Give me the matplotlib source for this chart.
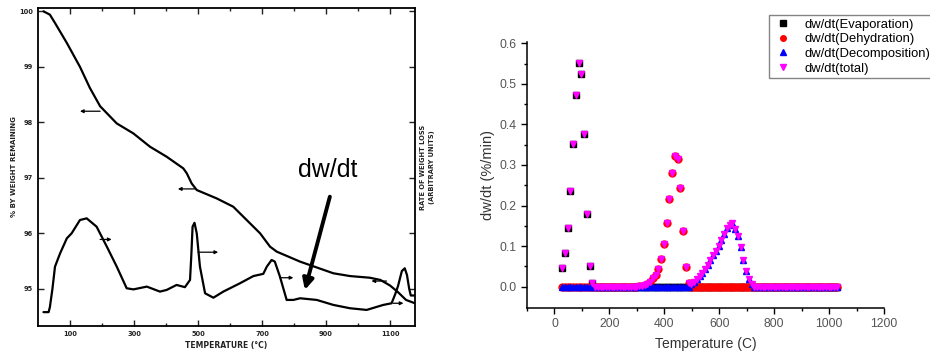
import numpy as np
import matplotlib
matplotlib.use("agg")
import matplotlib.pyplot as plt

# --- left panel: scanned TG / DTG curves (temperature in C) ---
weight_temp = [17, 37, 53, 90, 131, 162, 194, 246, 298, 350, 402, 454, 465, 480, 496,
               558, 610, 652, 694, 725, 746, 819, 923, 975, 1037, 1070, 1100, 1125, 1150, 1178]
weight_pct = [100.0, 99.94, 99.79, 99.43, 99.0, 98.62, 98.29, 97.98, 97.80, 97.56, 97.38,
              97.17, 97.08, 96.90, 96.78, 96.63, 96.48, 96.24, 96.0, 95.76, 95.67, 95.49,
              95.28, 95.23, 95.2, 95.16, 95.06, 94.94, 94.8, 94.74]

rate_temp = [17, 33, 37, 45, 53, 69, 90, 105, 131, 152, 183, 215, 246, 277, 298, 340, 381,
             402, 433, 459, 475, 479, 483, 489, 496, 506, 522, 548, 579, 631, 673, 704, 715,
             730, 740, 756, 777, 798, 819, 871, 923, 975, 1027, 1079, 1105, 1116, 1125, 1137,
             1146, 1153, 1160, 1165, 1178]
rate_val = [94.58, 94.58, 94.67, 95.0, 95.40, 95.64, 95.91, 96.0, 96.24, 96.27, 96.12, 95.76,
            95.40, 95.01, 94.99, 95.04, 94.95, 94.98, 95.07, 95.03, 95.16, 95.6, 96.12, 96.19,
            96.0, 95.40, 94.92, 94.84, 94.95, 95.10, 95.23, 95.27, 95.40, 95.52, 95.49, 95.22,
            94.80, 94.80, 94.83, 94.80, 94.71, 94.65, 94.62, 94.71, 94.74, 94.9, 95.05, 95.32,
            95.37, 95.25, 95.0, 94.88, 94.88]

# --- right panel: model rates, 10 C grid ---
temp = np.arange(28, 1029, 10)

evap_temp = [28, 38, 48, 58, 68, 78, 88, 98, 108, 118, 128, 138]
evap_rate = [0.045, 0.082, 0.145, 0.236, 0.351, 0.473, 0.551, 0.524, 0.376, 0.179, 0.051, 0.008]

dehyd_temp = [308, 318, 328, 338, 348, 358, 368, 378, 388, 398, 408, 418, 428, 438, 448, 458,
              468, 478, 488]
dehyd_rate = [0.001, 0.002, 0.004, 0.007, 0.012, 0.020, 0.029, 0.044, 0.069, 0.105, 0.156,
              0.217, 0.280, 0.322, 0.315, 0.244, 0.137, 0.048, 0.009]

decomp_temp = [498, 508, 518, 528, 538, 548, 558, 568, 578, 588, 598, 608, 618, 628, 638, 648,
               658, 668, 678, 688, 698, 708, 718]
decomp_rate = [0.007, 0.012, 0.018, 0.025, 0.033, 0.043, 0.054, 0.066, 0.078, 0.088, 0.100,
               0.115, 0.130, 0.145, 0.153, 0.156, 0.143, 0.125, 0.097, 0.066, 0.039, 0.018, 0.006]


def on_grid(xs, ys):
    out = np.zeros(len(temp))
    for x, y in zip(xs, ys):
        out[np.argmin(np.abs(temp - x))] = y
    return out


evap = on_grid(evap_temp, evap_rate)
dehyd = on_grid(dehyd_temp, dehyd_rate)
decomp = on_grid(decomp_temp, decomp_rate)
total = evap + dehyd + decomp

fig = plt.figure(figsize=(9.3, 3.6), dpi=100)

# ---------------- left panel ----------------
ax1 = fig.add_axes([0.0409, 0.0944, 0.4053, 0.8834])
ax1.plot(weight_temp, weight_pct, color="black", lw=1.6, solid_capstyle="round")
ax1.plot(rate_temp, rate_val, color="black", lw=1.6, solid_capstyle="round")
ax1.set_xlim(0, 1178)
ax1.set_ylim(94.33, 100.06)
ax1.set_xticks([100, 300, 500, 700, 900, 1100])
ax1.set_xticks([200, 400, 600, 800, 1000], minor=True)
ax1.set_yticks([95, 96, 97, 98, 99, 100])
ax1.tick_params(which="both", direction="in", top=True, right=True, labelsize=4.8,
                width=1, colors="#222222")
ax1.tick_params(which="major", length=4)
ax1.tick_params(which="minor", length=2)
for lab in ax1.get_xticklabels() + ax1.get_yticklabels():
    lab.set_fontweight("bold")
for sp in ax1.spines.values():
    sp.set_linewidth(1.3)
ax1.set_xlabel("TEMPERATURE (°C)", fontsize=5.5, fontweight="bold", color="#222222", labelpad=3)
ax1.set_ylabel("% BY WEIGHT REMAINING", fontsize=5.0, fontweight="bold", color="#222222", labelpad=2)
fig.text(0.4595, 0.535, "RATE OF WEIGHT LOSS\n(ARBITRARY UNITS)", rotation=90, fontsize=4.8,
         fontweight="bold", color="#222222", ha="center", va="center", linespacing=1.5)

small = dict(arrowstyle="-|>", lw=0.9, color="black", mutation_scale=5, shrinkA=0, shrinkB=0)
for x0, x1, y in [(194, 131, 98.2), (489, 437, 96.8), (1089, 1042, 95.14),
                  (194, 230, 95.89), (500, 563, 95.66), (756, 798, 95.2), (1110, 1142, 94.74)]:
    ax1.annotate("", xy=(x1, y), xytext=(x0, y), arrowprops=small)

ax1.text(904, 97.14, "dw/dt", fontsize=18, family="Liberation Sans", ha="center", va="center")
ax1.annotate("", xy=(834, 94.98), xytext=(912, 96.66),
             arrowprops=dict(arrowstyle="-|>", lw=2.8, color="black", mutation_scale=16,
                             shrinkA=0, shrinkB=0))

# ---------------- right panel ----------------
ax2 = fig.add_axes([0.5667, 0.1453, 0.3839, 0.7389])
ms = 5
ax2.plot(temp, evap, "s", color="black", ms=ms, mec="black", label="dw/dt(Evaporation)")
ax2.plot(temp, dehyd, "o", color="red", ms=ms, mec="red", label="dw/dt(Dehydration)")
ax2.plot(temp, decomp, "^", color="blue", ms=ms, mec="blue", label="dw/dt(Decomposition)")
ax2.plot(temp, total, "v", color="magenta", ms=ms, mec="magenta", label="dw/dt(total)")

ax2.set_xlim(-100, 1200)
ax2.set_ylim(-0.052, 0.604)
ax2.set_xticks([0, 200, 400, 600, 800, 1000, 1200])
ax2.set_xticks([-100, 100, 300, 500, 700, 900, 1100], minor=True)
ax2.set_yticks(np.round(np.arange(0, 0.61, 0.1), 1))
ax2.set_yticks(np.round(np.arange(0.05, 0.6, 0.1), 2), minor=True)
ax2.yaxis.set_major_formatter(matplotlib.ticker.FormatStrFormatter("%.1f"))
ax2.spines["top"].set_visible(False)
ax2.spines["right"].set_visible(False)
for sp in ax2.spines.values():
    sp.set_linewidth(1.1)
ax2.tick_params(which="both", direction="out", width=1, labelsize=8.8, labelcolor="#555555")
ax2.tick_params(which="major", length=4)
ax2.tick_params(which="minor", length=2.5)
for lab in ax2.get_xticklabels() + ax2.get_yticklabels():
    lab.set_family("Liberation Sans")
ax2.set_xlabel("Temperature (C)", fontsize=10, family="Liberation Sans", color="#333333", labelpad=5)
ax2.set_ylabel("dw/dt (%/min)", fontsize=10.5, family="Liberation Sans", color="#333333", labelpad=3)

leg = ax2.legend(loc="upper left", bbox_to_anchor=(0.8269, 0.958), bbox_transform=fig.transFigure,
                 prop={"family": "Liberation Sans", "size": 9.4}, frameon=True, fancybox=False,
                 borderaxespad=0, borderpad=0.25, handlelength=1.7, handletextpad=0.75,
                 labelspacing=0.2, markerscale=0.8)
leg.get_frame().set_edgecolor("#666666")
leg.get_frame().set_linewidth(1)

fig.savefig("out.png", dpi=100)
